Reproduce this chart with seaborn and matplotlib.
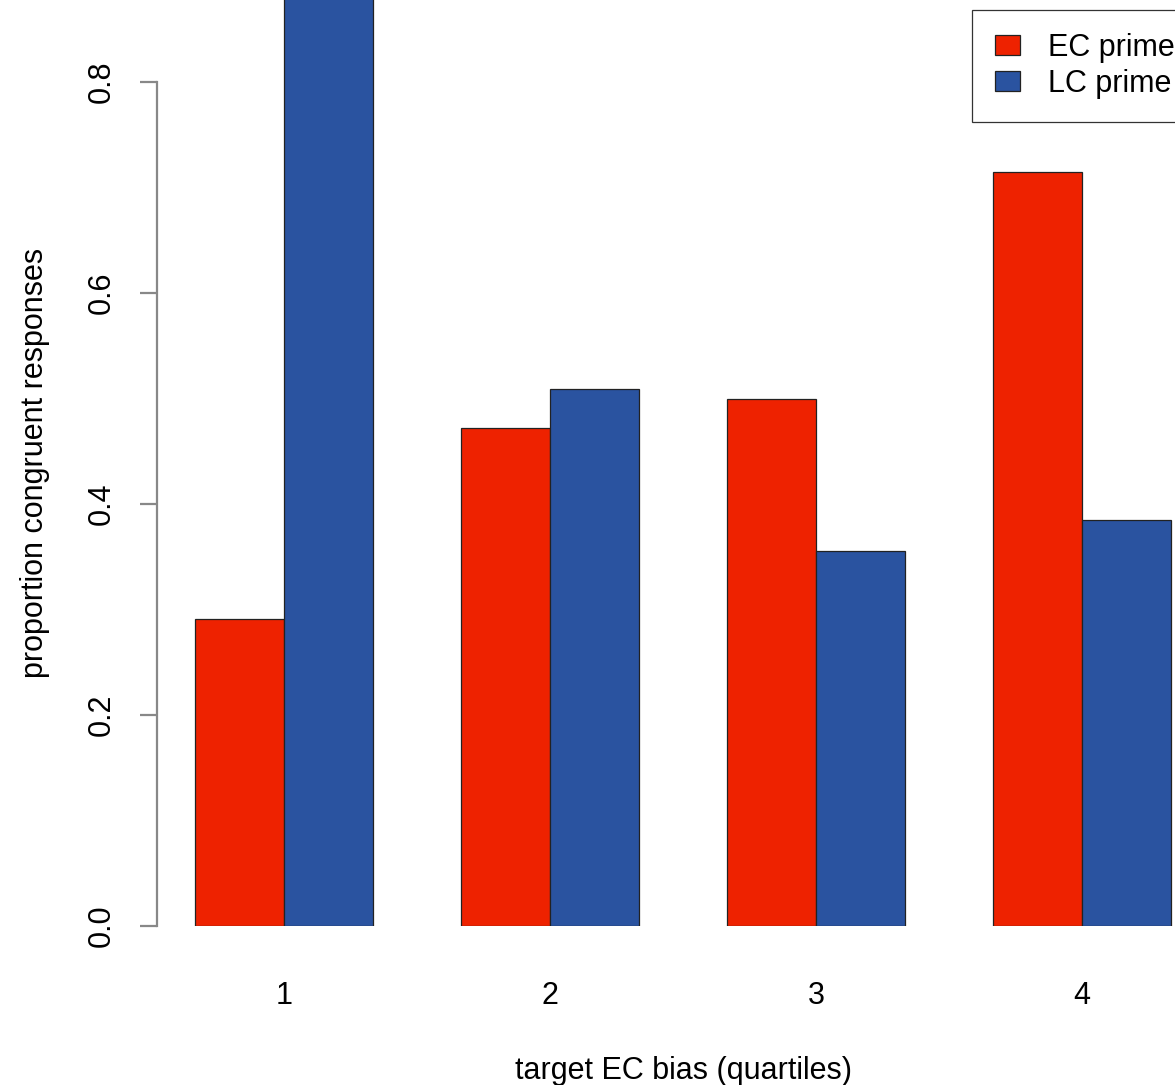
import pandas as pd
import matplotlib.pyplot as plt
import seaborn as sns

# Data
quartiles = ['1', '2', '3', '4']
ec_prime = [0.291, 0.472, 0.500, 0.715]
lc_prime = [0.93, 0.509, 0.355, 0.385]   # first bar runs past the top of the frame
primes = ['EC prime', 'LC prime']
colors = ['#EE2200', '#2A53A0']

df = pd.DataFrame({
    'quartile': quartiles * 2,
    'prime': [primes[0]] * 4 + [primes[1]] * 4,
    'value': ec_prime + lc_prime,
})

sns.set_style('white')
plt.rcParams['font.family'] = ['Liberation Sans', 'DejaVu Sans']
plt.rcParams['text.color'] = 'black'
plt.rcParams['axes.labelcolor'] = 'black'

W, H = 1175, 1085
fs = 22
fig = plt.figure(figsize=(W / 100, H / 100), dpi=100)
ax = fig.add_axes([157 / W, (H - 926) / H, 1 - 157 / W, 926 / H])

sns.barplot(data=df, x='quartile', y='value', hue='prime', palette=colors,
            width=0.669, gap=0, saturation=1, edgecolor='#222222',
            linewidth=0.9, ax=ax)

ax.set_xlim(-0.477, 3.350)
ax.set_ylim(0, 926 / 1055)

# R-style axes: only a short left axis line, no box
for s in ['top', 'right', 'bottom']:
    ax.spines[s].set_visible(False)
ax.spines['left'].set_bounds(0, 0.8)
ax.spines['left'].set_color('#888888')
ax.spines['left'].set_linewidth(1.6)

ax.set_yticks([0, 0.2, 0.4, 0.6, 0.8])
ax.set_yticklabels(['0.0', '0.2', '0.4', '0.6', '0.8'], rotation=90, va='center')
ax.tick_params(axis='y', length=12, width=1.6, color='#888888', pad=17,
               labelsize=fs, labelcolor='black', left=True)
ax.tick_params(axis='x', length=0, pad=39.5, labelsize=fs, labelcolor='black')

ax.set_xlabel('target EC bias (quartiles)', fontsize=fs)
ax.set_ylabel('proportion congruent responses', fontsize=fs)
ax.xaxis.set_label_coords(0.5167, -0.140)
ax.yaxis.set_label_coords(-0.105, 0.5)

leg = ax.legend(loc='upper left', bbox_to_anchor=(972 / W, 1 - 10 / H),
                bbox_transform=fig.transFigure, fontsize=fs, frameon=True,
                fancybox=False, edgecolor='black', handlelength=0.82,
                handleheight=0.62, handletextpad=0.92, borderpad=0.75,
                labelspacing=0.2, borderaxespad=0, title=None)
leg.get_frame().set_linewidth(0.9)

fig.savefig('out.png', dpi=100)
